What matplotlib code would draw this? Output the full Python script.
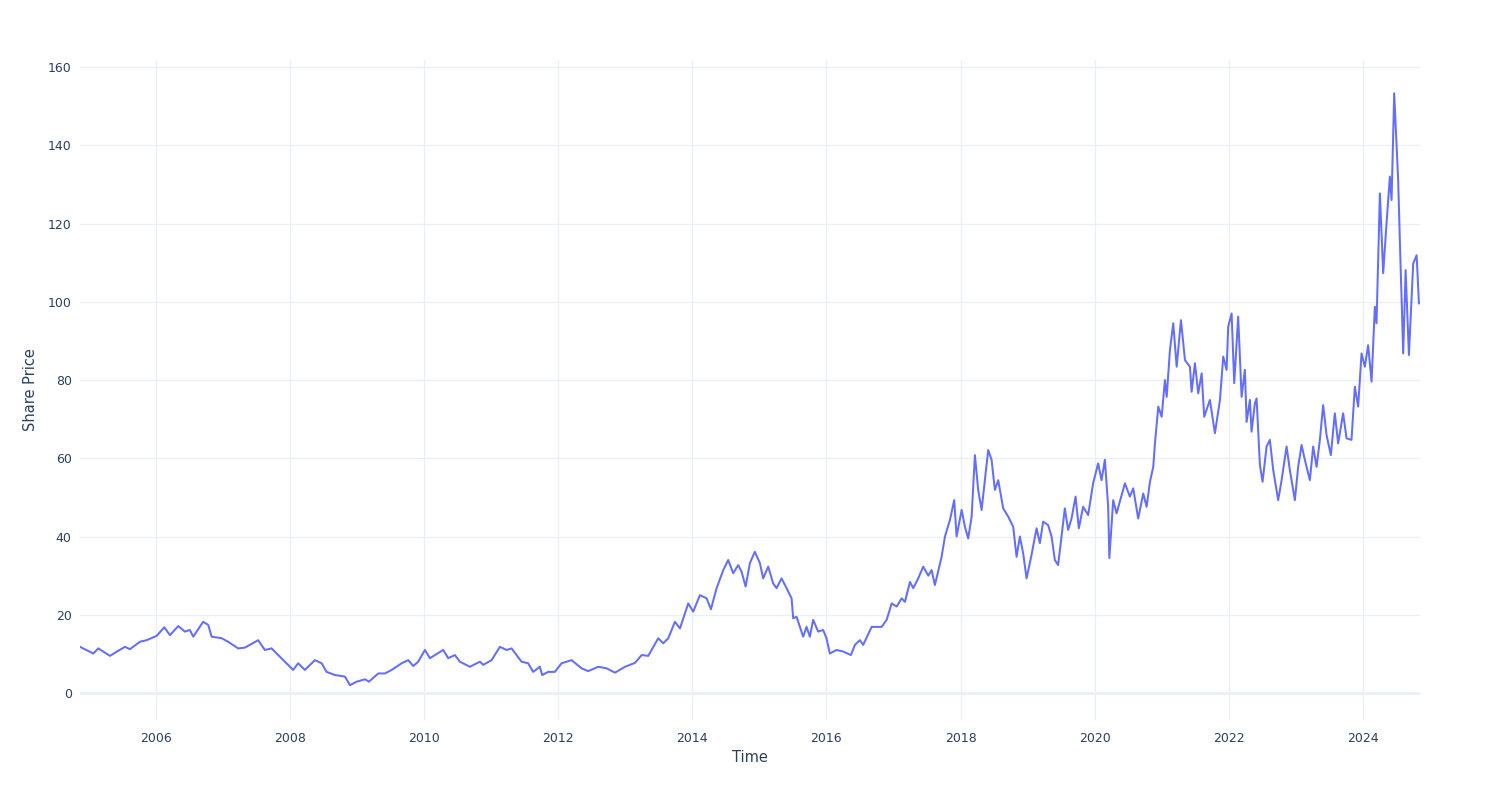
import datetime as dt
import matplotlib
matplotlib.use("Agg")
import matplotlib.pyplot as plt
import matplotlib.dates as mdates

# share price (decimal year, price)
years = [
    2004.867, 2005.065, 2005.140, 2005.314, 2005.438, 2005.538, 2005.612, 2005.761, 2005.861,
    2006.010, 2006.124, 2006.209, 2006.333, 2006.432, 2006.507, 2006.556, 2006.705, 2006.780,
    2006.831, 2006.980, 2007.078, 2007.227, 2007.327, 2007.526, 2007.625, 2007.725, 2007.924,
    2008.047, 2008.122, 2008.222, 2008.371, 2008.471, 2008.545, 2008.669, 2008.818, 2008.893,
    2008.993, 2009.117, 2009.176, 2009.315, 2009.415, 2009.515, 2009.664, 2009.762, 2009.837,
    2009.911, 2010.011, 2010.086, 2010.284, 2010.359, 2010.459, 2010.533, 2010.682, 2010.832,
    2010.881, 2011.006, 2011.130, 2011.230, 2011.304, 2011.453, 2011.552, 2011.626, 2011.726,
    2011.761, 2011.850, 2011.950, 2012.050, 2012.199, 2012.348, 2012.447, 2012.596, 2012.721,
    2012.845, 2012.994, 2013.143, 2013.243, 2013.341, 2013.490, 2013.565, 2013.640, 2013.739,
    2013.814, 2013.938, 2014.012, 2014.112, 2014.212, 2014.276, 2014.361, 2014.460, 2014.534,
    2014.609, 2014.683, 2014.734, 2014.794, 2014.858, 2014.932, 2015.007, 2015.056, 2015.131,
    2015.205, 2015.256, 2015.330, 2015.405, 2015.480, 2015.504, 2015.554, 2015.653, 2015.703,
    2015.753, 2015.802, 2015.876, 2015.951, 2016.001, 2016.051, 2016.151, 2016.249, 2016.364,
    2016.424, 2016.498, 2016.547, 2016.673, 2016.822, 2016.896, 2016.971, 2017.045, 2017.120,
    2017.169, 2017.244, 2017.293, 2017.367, 2017.442, 2017.517, 2017.567, 2017.616, 2017.716,
    2017.766, 2017.840, 2017.904, 2017.940, 2018.015, 2018.064, 2018.113, 2018.164, 2018.213,
    2018.262, 2018.313, 2018.411, 2018.462, 2018.511, 2018.561, 2018.635, 2018.710, 2018.784,
    2018.835, 2018.884, 2018.933, 2018.984, 2019.058, 2019.133, 2019.182, 2019.232, 2019.306,
    2019.357, 2019.406, 2019.455, 2019.506, 2019.555, 2019.604, 2019.655, 2019.715, 2019.764,
    2019.828, 2019.903, 2019.977, 2020.052, 2020.102, 2020.152, 2020.201, 2020.219, 2020.276,
    2020.326, 2020.450, 2020.524, 2020.574, 2020.648, 2020.723, 2020.773, 2020.823, 2020.872,
    2020.897, 2020.947, 2020.997, 2021.046, 2021.072, 2021.121, 2021.170, 2021.221, 2021.285,
    2021.345, 2021.419, 2021.444, 2021.494, 2021.543, 2021.594, 2021.632, 2021.717, 2021.792,
    2021.867, 2021.916, 2021.966, 2021.990, 2022.041, 2022.080, 2022.139, 2022.190, 2022.239,
    2022.265, 2022.314, 2022.339, 2022.388, 2022.414, 2022.463, 2022.503, 2022.563, 2022.612,
    2022.662, 2022.736, 2022.787, 2022.861, 2022.910, 2022.985, 2023.034, 2023.085, 2023.134,
    2023.209, 2023.258, 2023.309, 2023.358, 2023.407, 2023.458, 2023.522, 2023.581, 2023.631,
    2023.705, 2023.756, 2023.830, 2023.880, 2023.929, 2023.980, 2024.029, 2024.078, 2024.129,
    2024.178, 2024.203, 2024.253, 2024.302, 2024.352, 2024.402, 2024.427, 2024.466, 2024.502,
    2024.525, 2024.550, 2024.600, 2024.636, 2024.685, 2024.749, 2024.800, 2024.834,
]
prices = [
    11.8, 10.1, 11.4, 9.5, 10.8, 11.8, 11.2, 13.1, 13.5,
    14.6, 16.8, 14.8, 17.1, 15.7, 16.1, 14.4, 18.2, 17.4,
    14.4, 14.0, 13.1, 11.4, 11.6, 13.5, 11.0, 11.4, 8.0,
    5.9, 7.6, 5.9, 8.4, 7.6, 5.4, 4.6, 4.2, 2.0,
    2.9, 3.5, 2.9, 5.0, 5.0, 5.9, 7.6, 8.4, 6.9,
    8.0, 11.0, 8.9, 11.0, 8.9, 9.7, 8.0, 6.7, 8.0,
    7.2, 8.4, 11.8, 11.0, 11.4, 8.0, 7.6, 5.4, 6.7,
    4.6, 5.4, 5.4, 7.6, 8.4, 6.3, 5.6, 6.7, 6.3,
    5.2, 6.7, 7.7, 9.7, 9.5, 14.0, 12.7, 14.0, 18.2,
    16.5, 22.9, 20.8, 25.0, 24.2, 21.4, 26.8, 31.4, 34.0,
    30.6, 32.7, 31.0, 27.2, 33.2, 36.1, 33.2, 29.3, 32.3,
    28.0, 26.8, 29.3, 26.8, 24.2, 19.1, 19.5, 14.4, 16.9,
    14.4, 18.7, 15.7, 16.1, 14.0, 10.1, 11.0, 10.6, 9.7,
    12.3, 13.5, 12.3, 16.9, 16.9, 18.7, 22.9, 22.1, 24.2,
    23.3, 28.4, 26.8, 29.3, 32.3, 30.0, 31.4, 27.6, 34.8,
    40.0, 44.2, 49.3, 40.0, 46.8, 42.5, 39.5, 45.1, 60.8,
    51.9, 46.8, 62.1, 59.6, 51.9, 54.4, 47.2, 45.1, 42.5,
    34.8, 40.0, 35.7, 29.3, 35.3, 42.1, 38.3, 43.8, 42.9,
    40.0, 34.0, 32.7, 40.0, 47.2, 41.7, 44.6, 50.2, 42.1,
    47.6, 45.5, 53.6, 58.7, 54.4, 59.6, 47.6, 34.5, 49.3,
    45.9, 53.6, 50.2, 52.3, 44.6, 51.0, 47.6, 54.0, 57.8,
    63.8, 73.2, 70.6, 80.0, 75.7, 87.7, 94.5, 83.4, 95.3,
    85.1, 83.4, 77.0, 84.3, 76.6, 81.7, 70.6, 74.9, 66.4,
    74.9, 86.0, 82.6, 93.6, 97.0, 79.2, 96.2, 75.7, 82.6,
    69.3, 74.9, 66.8, 74.0, 75.3, 58.3, 54.0, 63.0, 64.7,
    57.0, 49.3, 54.4, 63.0, 57.0, 49.3, 57.8, 63.4, 59.6,
    54.4, 63.0, 57.8, 64.7, 73.6, 65.9, 60.8, 71.5, 63.8,
    71.5, 65.1, 64.7, 78.3, 73.2, 86.8, 83.4, 88.9, 79.6,
    98.7, 94.5, 127.7, 107.3, 120.1, 132.0, 126.0, 153.3, 139.6,
    131.1, 115.8, 86.8, 108.1, 86.4, 109.8, 111.9, 99.6,
]


def to_date(y):
    yr = int(y)
    start = dt.datetime(yr, 1, 1)
    end = dt.datetime(yr + 1, 1, 1)
    return start + (end - start) * (y - yr)


dates = [to_date(y) for y in years]

grid_col = "#EBF0F8"
text_col = "#2a3f5f"
plt.rcParams["font.family"] = ["DejaVu Sans"]

fig = plt.figure(figsize=(15, 8), dpi=100)
ax = fig.add_axes([80 / 1500, 80 / 800, 1340 / 1500, 660 / 800])

ax.plot(dates, prices, color="#636efa", linewidth=1.45, zorder=3)

ax.set_xlim(to_date(2004.867), to_date(2024.85))
ax.set_ylim(-6.9, 161.8)
ax.set_yticks(range(0, 161, 20))
ax.xaxis.set_major_locator(mdates.YearLocator(2))
ax.xaxis.set_major_formatter(mdates.DateFormatter("%Y"))

ax.grid(True, color=grid_col, linewidth=1, zorder=0)
ax.axhline(0, color=grid_col, linewidth=2, zorder=1)
for s in ax.spines.values():
    s.set_visible(False)
ax.tick_params(length=0, colors=text_col, labelsize=9)
ax.tick_params(axis="x", pad=9)
ax.tick_params(axis="y", pad=6)

ax.set_xlabel("Time", fontsize=10.5, color=text_col, labelpad=3)
ax.set_ylabel("Share Price", fontsize=10.5, color=text_col, labelpad=7)

fig.savefig("out.png", dpi=100, facecolor="white")
